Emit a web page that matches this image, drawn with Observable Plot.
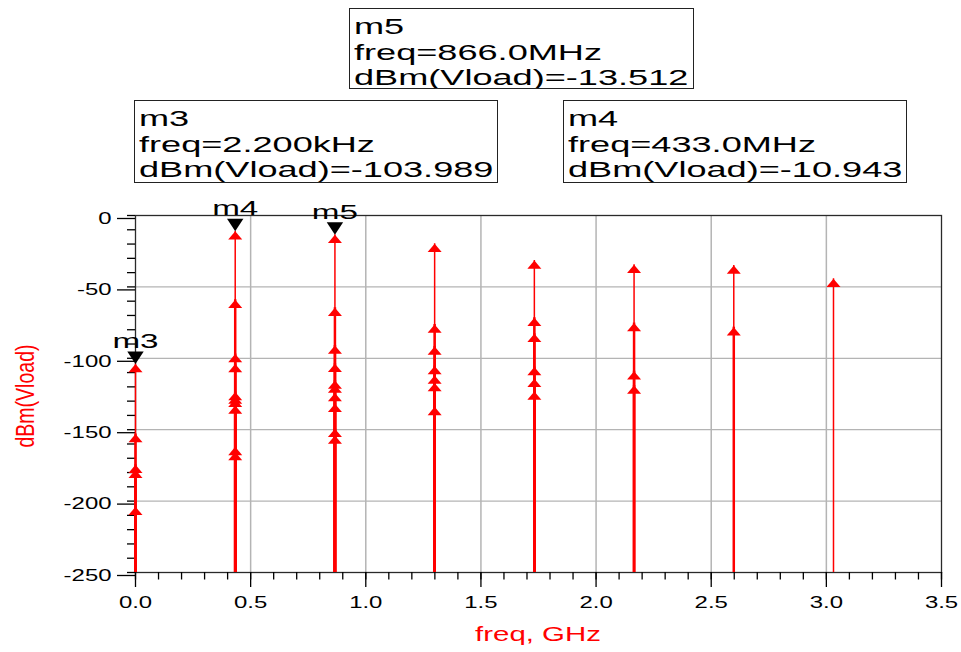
<!DOCTYPE html>
<html>
<head>
<meta charset="utf-8">
<script src="https://cdn.jsdelivr.net/npm/d3@7"></script>
<script src="https://cdn.jsdelivr.net/npm/@observablehq/plot@0.6"></script>
<style>
  html, body { margin: 0; padding: 0; background: #fff; }
  #wrap { position: relative; width: 961px; height: 652px; overflow: hidden; font-family: "Liberation Sans", Arial, sans-serif; }
  #chart { position: absolute; left: 0; top: 0; }
  .mbox { position: absolute; border: 1.3px solid #222; box-sizing: border-box; background: #fff; overflow: hidden; }
  .mbox .txt { position: absolute; left: 4px; top: 6px; font-size: 21.5px; line-height: 25.5px; white-space: nowrap; color: #000; transform: scaleX(1.68); transform-origin: 0 0; }
  .xtitle { position: absolute; left: 538px; top: 623px; font-size: 21px; line-height: 21px; color: #ff0000; white-space: nowrap; transform: translateX(-50%) scaleX(1.4); }
  .ytitle { position: absolute; left: 25px; top: 396px; font-size: 19.5px; line-height: 21px; color: #ff0000; white-space: nowrap; transform: translate(-50%, -50%) rotate(-90deg) scaleY(1.35); }
</style>
</head>
<body>
<div id="wrap">
  <div id="chart"></div>
</div>
<script>
// ---- data ----
const harmonicFreqGHz = [0, 0.433, 0.866, 1.299, 1.732, 2.165, 2.598, 3.031];
const levelsDC = [-103.989, -153, -174.5, -178, -204];
const levelsH1 = [-10.943, -59, -97, -104, -123.6, -126, -128.3, -133, -162, -165.6];
const levelsH2 = [-13.512, -64.6, -91, -103.8, -115.5, -118.3, -124.3, -131.8, -149.3, -154];
const levelsH3 = [-19.8, -76.3, -91.7, -105.4, -112, -117.3, -134];
const levelsH4 = [-31.5, -71.6, -82.8, -106.1, -114.3, -123.2];
const levelsH5 = [-34.5, -75.3, -109, -119];
const levelsH6 = [-35, -78.2];
const levelsH7 = [-44.3];
const levelsByHarmonic = [levelsDC, levelsH1, levelsH2, levelsH3, levelsH4, levelsH5, levelsH6, levelsH7];

const markerNames = ["m3", "m4", "m5"];
const markerFreqGHz = [0.0000022, 0.433, 0.866];
const markerFreqText = ["2.200kHz", "433.0MHz", "866.0MHz"];
const markerLevels = [-103.989, -10.943, -13.512];

const xMajorTicks = [0, 0.5, 1, 1.5, 2, 2.5, 3, 3.5];
const xMinorTicks = d3.range(0, 36).map(i => i / 10);
const yMajorTicks = [0, -50, -100, -150, -200, -250];
const yMinorTicks = d3.range(0, 26).map(i => -i * 10);
const xGrid = [0.5, 1, 1.5, 2, 2.5, 3];
const yGrid = [-50, -100, -150, -200];

// ---- table built from arrays ----
const rows = [];
harmonicFreqGHz.forEach((f, i) => {
  const lv = levelsByHarmonic[i].slice().sort((a, b) => b - a);
  lv.forEach((v, k) => rows.push({freq: f, level: v, top: k === 0}));
});
const markers = markerNames.map((n, i) => ({name: n, freq: markerFreqGHz[i], level: markerLevels[i], ftext: markerFreqText[i]}));

// custom symbols: tip at the data point
const upTri = { draw(ctx) { ctx.moveTo(0, 0); ctx.lineTo(7, 8.3); ctx.lineTo(-7, 8.3); ctx.closePath(); } };
const downTri = { draw(ctx) { ctx.moveTo(0, 0); ctx.lineTo(8.2, -12.5); ctx.lineTo(-8.2, -12.5); ctx.closePath(); } };

const plot = Plot.plot({
  width: 961,
  height: 652,
  marginLeft: 135,
  marginRight: 20,
  marginTop: 215,
  marginBottom: 80,
  style: { fontFamily: "'Liberation Sans', Arial, sans-serif", color: "#000", background: "#fff" },
  x: { domain: [0, 3.5] },
  y: { domain: [-250, 0] },
  marks: [
    Plot.gridX(xGrid, { stroke: "#b4b4b4", strokeOpacity: 1, strokeWidth: 1.5 }),
    Plot.gridY(yGrid, { stroke: "#b4b4b4", strokeOpacity: 1, strokeWidth: 1.3 }),
    Plot.frame({ stroke: "#2a2a2a", strokeWidth: 1.3 }),
    Plot.axisX({ ticks: xMinorTicks, tickSize: 7.5, tickFormat: () => "", label: null, strokeWidth: 1.3 }),
    Plot.axisX({ ticks: xMajorTicks, tickSize: 15, tickPadding: 9, tickFormat: d3.format(".1f"), fontSize: 16.5, label: null, strokeWidth: 1.3 }),
    Plot.axisY({ ticks: yMinorTicks, tickSize: 8, tickFormat: () => "", label: null, strokeWidth: 1.3 }),
    Plot.axisY({ ticks: yMajorTicks, tickSize: 18, tickPadding: 6, dy: 3, fontSize: 16.5, tickFormat: d => String(d), label: null, strokeWidth: 1.3 }),
    Plot.ruleX(rows, { x: "freq", y1: -250, y2: "level", stroke: "#ff0000", strokeWidth: d => d.top ? 1.5 : 2.5 }),
    Plot.dot(rows, { x: "freq", y: "level", symbol: upTri, fill: "#ff0000", stroke: "none", r: 4 }),
    Plot.dot(markers, { x: "freq", y: "level", symbol: downTri, fill: "#000", stroke: "none", r: 5 }),
    Plot.text(markers, { x: "freq", y: "level", text: "name", dy: -16, lineAnchor: "bottom", fontSize: 20, fill: "#000" })
  ]
});
document.getElementById("chart").appendChild(plot);

// widen lettering to match the reference (textLength keeps positions intact)
function stretch(nodes, s) {
  nodes.forEach(t => {
    if (!t.textContent) return;
    const L = t.getComputedTextLength();
    if (L > 0) {
      t.setAttribute("textLength", (L * s).toFixed(2));
      t.setAttribute("lengthAdjust", "spacingAndGlyphs");
    }
  });
}
const allText = Array.from(plot.querySelectorAll("text"));
const isMarker = t => markerNames.includes(t.textContent.trim());
stretch(allText.filter(t => !isMarker(t)), 1.45);
stretch(allText.filter(isMarker), 1.66);

// marker readout boxes
const wrap = document.getElementById("wrap");
const boxGeom = { m5: [349, 8, 345, 81], m3: [134, 100, 364, 83], m4: [563, 100, 344, 83] };
markers.forEach(m => {
  const g = boxGeom[m.name];
  const b = document.createElement("div");
  b.className = "mbox";
  b.style.left = g[0] + "px"; b.style.top = g[1] + "px";
  b.style.width = g[2] + "px"; b.style.height = g[3] + "px";
  const t = document.createElement("div");
  t.className = "txt";
  t.innerHTML = `${m.name}<br>freq=${m.ftext}<br>dBm(Vload)=${m.level.toFixed(3)}`;
  b.appendChild(t);
  wrap.appendChild(b);
});
const xt = document.createElement("div"); xt.className = "xtitle"; xt.textContent = "freq, GHz"; wrap.appendChild(xt);
const yt = document.createElement("div"); yt.className = "ytitle"; yt.textContent = "dBm(Vload)"; wrap.appendChild(yt);
</script>
</body>
</html>
